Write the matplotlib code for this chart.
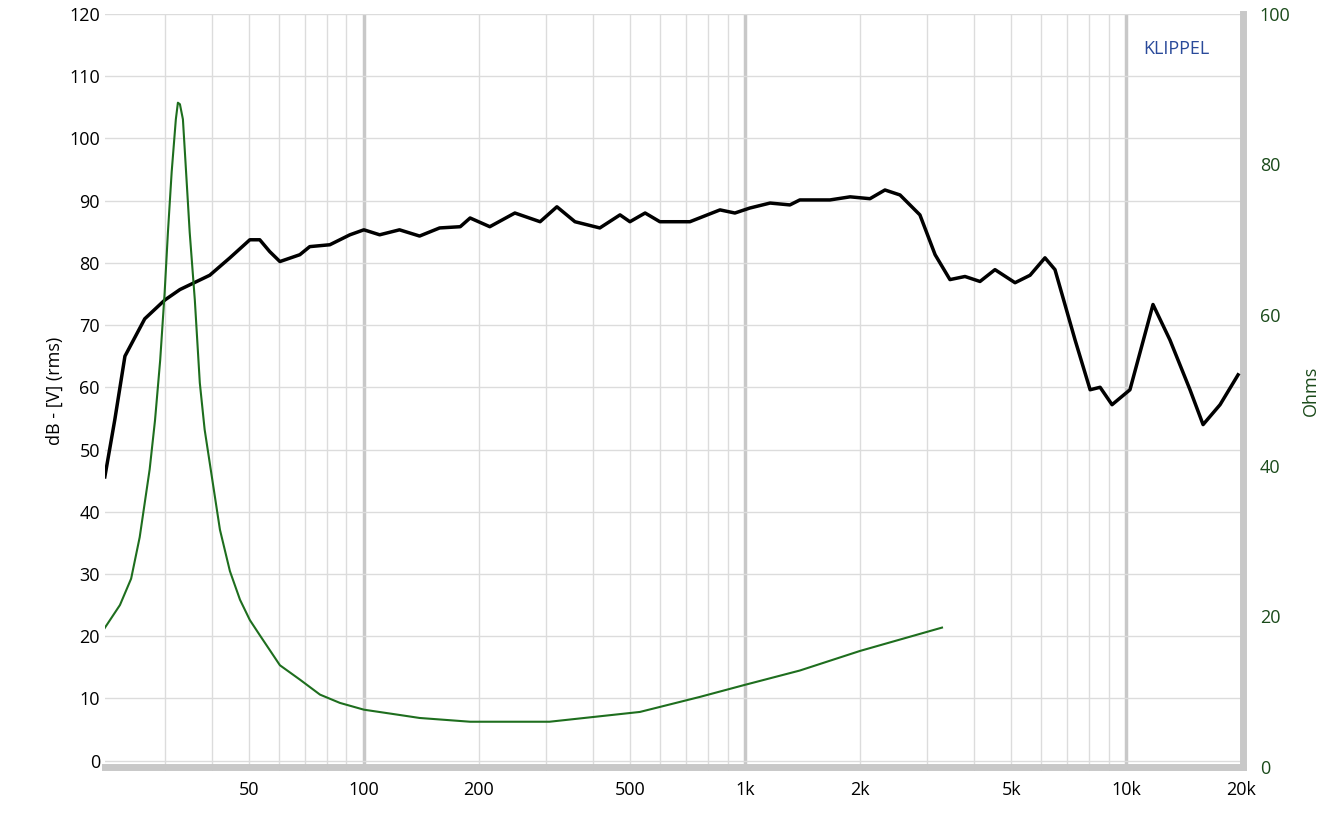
import matplotlib
matplotlib.use("Agg")
import matplotlib.pyplot as plt
from matplotlib.ticker import FixedLocator, NullFormatter
import numpy as np

plt.rcParams['font.family'] = ['Open Sans', 'DejaVu Sans']

spl_f = [20.9,22.2,23.6,26.6,30.0,32.9,39.4,44.5,50.2,53.3,56.6,60.2,67.9,72.1,81.4,91.9,100,110,124,140,158,179,190,214,249,290,321,358,416,470,499,547,598,717,860,941,1030,1164,1312,1393,1671,1888,2128,2330,2552,2878,3155,3451,3779,4138,4530,5114,5600,6128,6510,7350,8050,8550,9190,10240,11770,13040,14720,15930,17650,19680]
spl_db = [45.6,54.8,65,71,74,75.7,78,80.8,83.7,83.7,81.8,80.2,81.3,82.6,82.9,84.5,85.3,84.5,85.3,84.3,85.6,85.8,87.2,85.8,88,86.6,89,86.6,85.6,87.7,86.6,88,86.6,86.6,88.5,88,88.8,89.6,89.3,90.1,90.1,90.6,90.3,91.7,90.9,87.7,81.3,77.3,77.8,77,78.9,76.8,78,80.8,78.9,67.6,59.6,60,57.2,59.6,73.3,67.6,59.6,54,57.2,62]
imp_f = [20.3,22.9,24.5,25.8,27.4,28.3,29.2,30.0,30.6,31.3,32.1,32.5,32.9,33.5,34.0,34.9,36.0,37.1,38.2,41.9,44.5,47.3,50.2,53.3,60.2,67.9,76.7,86.5,100,124,140,190,307,530,762,1000,1393,2004,3289]
imp_ohm = [17.5,21.5,25.0,30.5,39.5,46,54,63,71,79,86,88.2,88,86,80.6,71,62,51,44.8,31.5,26,22.2,19.5,17.5,13.5,11.6,9.6,8.5,7.6,6.9,6.5,6,6,7.3,9.3,10.9,12.8,15.4,18.5]
xticks = [50,100,200,500,1000,2000,5000,10000,20000]
xlabels = ["50","100","200","500","1k","2k","5k","10k","20k"]

fig = plt.figure(figsize=(13.44,8.15), dpi=100)
ax = fig.add_axes([0.078,0.059,0.847,0.924])
ax.set_xscale("log")
ax.set_xlim(20.9,20300)
ax.set_ylim(-1,120)
minors = [m*10**e for e in range(1,5) for m in range(2,10)]
minors = [v for v in minors if 20.9 < v < 20300]
for v in minors:
    ax.axvline(v, color="#dcdcdc", lw=1, zorder=0)
for v in [100,1000,10000]:
    ax.axvline(v, color="#c8c8c8", lw=2.5, zorder=0)
for y in range(0,121,10):
    ax.axhline(y, color="#dcdcdc", lw=1, zorder=0)
ax.xaxis.set_major_locator(FixedLocator(xticks))
ax.set_xticklabels(xlabels)
ax.xaxis.set_minor_formatter(NullFormatter())
ax.set_yticks(range(0,121,10))
ax.tick_params(axis="both", length=0, labelsize=13)
ax.tick_params(axis="x", pad=10)
for s in ["top","left"]:
    ax.spines[s].set_visible(False)
ax.spines["bottom"].set_color("#c8c8c8"); ax.spines["bottom"].set_linewidth(5)
ax.spines["right"].set_color("#c8c8c8"); ax.spines["right"].set_linewidth(5)
ax.set_ylabel("dB - [V] (rms)", fontsize=13)
ax.plot(spl_f, spl_db, color="black", lw=2.5, zorder=3)
ax.text(0.97, 0.965, "KLIPPEL", transform=ax.transAxes, ha="right", va="top", color="#2a4a9a", fontsize=13)

ax2 = ax.twinx()
ax2.set_ylim(0,100)
ax2.set_yticks(range(0,101,20))
ax2.tick_params(axis="y", length=0, labelsize=13, colors="#1a4a1a", pad=12)
for s in ax2.spines.values():
    s.set_visible(False)
ax2.set_ylabel("Ohms", fontsize=13, color="#1a4a1a", labelpad=8)
ax2.plot(imp_f, imp_ohm, color="#1e6e1e", lw=1.5, zorder=2)

fig.savefig("out.png", dpi=100)
